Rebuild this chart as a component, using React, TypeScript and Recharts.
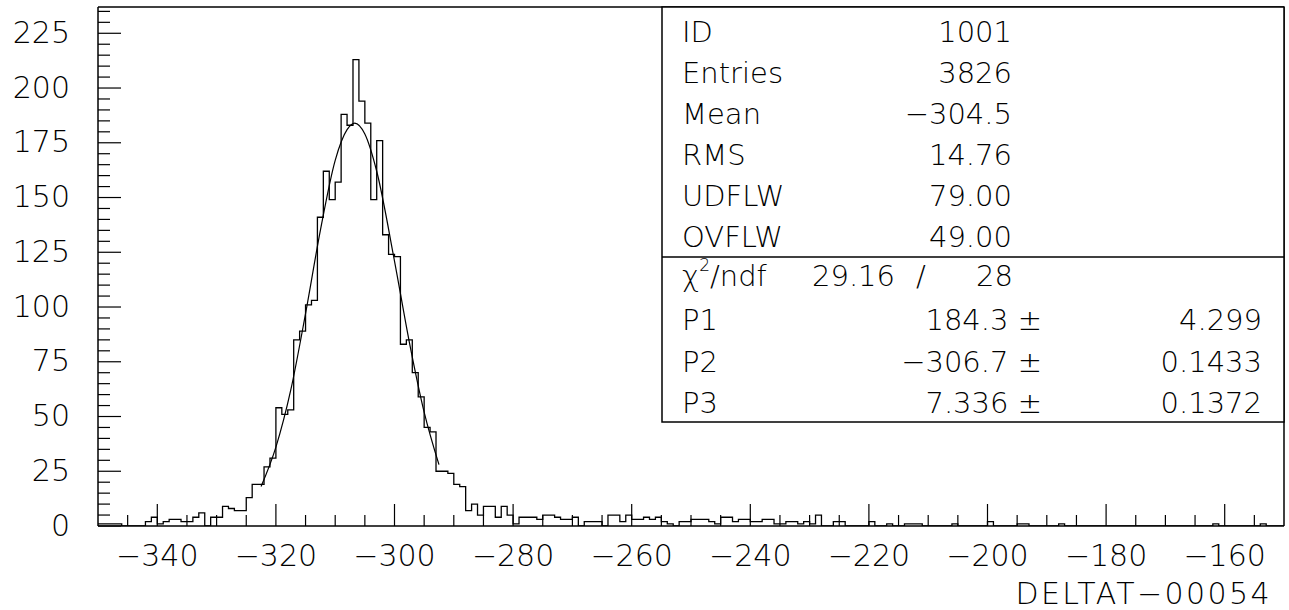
import { ComposedChart, Line, XAxis, YAxis } from "recharts";

// histogram DELTAT-00054, 1 unit bins from -350 to -150
const X_MIN = -350;
const X_MAX = -150;

// counts per bin, bins -350 .. -301
const countsA = [
  1, 1, 1, 1, 0, 0, 0, 0, 2, 4,
  1, 2, 3, 3, 2, 2, 4, 6, 0, 4,
  4, 9, 8, 7, 7, 13, 19, 19, 27, 31,
  54, 51, 53, 85, 89, 101, 103, 141, 162, 149,
  157, 188, 183, 213, 194, 184, 149, 176, 133, 124,
];
// bins -300 .. -251
const countsB = [
  123, 83, 85, 70, 59, 45, 43, 25, 25, 24,
  19, 18, 7, 10, 5, 9, 9, 4, 9, 5,
  1, 4, 4, 4, 3, 5, 5, 4, 3, 3,
  4, 0, 2, 2, 2, 0, 5, 5, 2, 5,
  3, 3, 4, 3, 4, 2, 1, 0, 2, 2,
];
// bins -250 .. -201
const countsC = [
  3, 3, 3, 2, 1, 4, 4, 2, 3, 3,
  2, 2, 3, 3, 1, 1, 2, 2, 1, 2,
  1, 5, 0, 0, 2, 2, 0, 0, 0, 0,
  2, 0, 0, 1, 0, 0, 1, 1, 1, 0,
  0, 0, 0, 0, 1, 0, 0, 0, 0, 0,
];
// bins -200 .. -151
const countsD = [
  2, 0, 0, 0, 0, 1, 1, 0, 0, 0,
  0, 0, 1, 0, 0, 0, 0, 0, 0, 0,
  0, 0, 0, 0, 0, 0, 0, 0, 0, 0,
  0, 0, 0, 0, 0, 0, 0, 0, 1, 0,
  0, 0, 0, 0, 0, 0, 1, 0, 0, 0,
];

// gaussian fit as drawn
const fitX = [-322.5, -320, -317.5, -315, -312.5, -310, -308, -306.7, -305, -303, -300, -297.5, -295, -292.5];
const fitY = [18, 36, 62, 97, 135, 167, 181, 184, 179, 162, 121, 84, 52, 28];

const xMajor = [-340, -320, -300, -280, -260, -240, -220, -200, -180, -160];
const yMajor = [0, 25, 50, 75, 100, 125, 150, 175, 200, 225];

const statLabels = ["ID", "Entries", "Mean", "RMS", "UDFLW", "OVFLW"];
const statValues = ["1001", "3826", "\u2212304.5", "14.76", "79.00", "49.00"];
const parLabels = ["P1", "P2", "P3"];
const parValues = ["184.3 \u00b1", "\u2212306.7 \u00b1", "7.336 \u00b1"];
const parErrors = ["4.299", "0.1433", "0.1372"];

const counts = [...countsA, ...countsB, ...countsC, ...countsD];
const histData = counts.map((c, i) => ({ x: X_MIN + i, y: c }));
histData.push({ x: X_MAX, y: counts[counts.length - 1] });
const fitData = fitX.map((x, i) => ({ x, y: fitY[i] }));

const xTicks: number[] = [];
for (let v = X_MIN + 5; v < X_MAX; v += 5) xTicks.push(v);
const yTicks: number[] = [];
for (let v = 0; v <= 235; v += 5) yTicks.push(v);

const FONT = "'DejaVu Sans', sans-serif";
const fmt = (v: number) => String(v).replace("-", "\u2212");

const XTick = (props: any) => {
  const { x, y, payload } = props;
  const v = payload.value;
  const major = xMajor.includes(v);
  return (
    <g>
      <line x1={x} x2={x} y1={y} y2={y - (major ? 22 : 11)} stroke="#000" strokeWidth={1.2} />
      {major && (
        <text x={x} y={y + 29} textAnchor="middle" dominantBaseline="central"
          fontFamily={FONT} fontWeight={200} fontSize={30} fill="#000">
          {fmt(v)}
        </text>
      )}
    </g>
  );
};

const YTick = (props: any) => {
  const { x, y, payload } = props;
  const v = payload.value;
  const major = yMajor.includes(v);
  return (
    <g>
      <line x1={x} x2={x + (major ? 23 : 12)} y1={y} y2={y} stroke="#000" strokeWidth={1.2} />
      {major && (
        <text x={x - 28} y={y - 1} textAnchor="end" dominantBaseline="central"
          fontFamily={FONT} fontWeight={200} fontSize={30} fill="#000">
          {v}
        </text>
      )}
    </g>
  );
};

export default function App() {
  const txt = { fontFamily: FONT, fontWeight: 200, fontSize: 29, fill: "#000" } as const;
  const labelX = 682;
  const rowY = [32, 73, 114, 155, 196, 237];
  const parY = [320, 362, 403];
  return (
    <div style={{ position: "absolute", left: 0, top: 0, width: 1289, height: 610, background: "#fff" }}>
      <ComposedChart
        width={1289}
        height={610}
        data={histData}
        margin={{ top: 0, right: 0, bottom: 0, left: 0 }}
      >
        <XAxis
          dataKey="x"
          type="number"
          domain={[X_MIN, X_MAX]}
          allowDataOverflow
          ticks={xTicks}
          interval={0}
          height={84}
          tickSize={0}
          tickMargin={0}
          tickLine={false}
          axisLine={{ stroke: "#000", strokeWidth: 1.5 }}
          tick={<XTick />}
        />
        <XAxis
          xAxisId="top"
          orientation="top"
          type="number"
          domain={[X_MIN, X_MAX]}
          height={7}
          tick={false}
          tickLine={false}
          axisLine={{ stroke: "#000", strokeWidth: 1.5 }}
        />
        <YAxis
          type="number"
          domain={[0, 237]}
          allowDataOverflow
          ticks={yTicks}
          interval={0}
          width={98}
          tickSize={0}
          tickMargin={0}
          tickLine={false}
          axisLine={{ stroke: "#000", strokeWidth: 1.5 }}
          tick={<YTick />}
        />
        <YAxis
          yAxisId="right"
          orientation="right"
          type="number"
          domain={[0, 237]}
          width={5}
          tick={false}
          tickLine={false}
          axisLine={{ stroke: "#000", strokeWidth: 1.5 }}
        />
        <Line
          type="stepAfter"
          dataKey="y"
          stroke="#000"
          strokeWidth={1.3}
          dot={false}
          activeDot={false}
          isAnimationActive={false}
        />
        <Line
          data={fitData}
          type="monotone"
          dataKey="y"
          stroke="#000"
          strokeWidth={1.2}
          dot={false}
          activeDot={false}
          isAnimationActive={false}
        />
      </ComposedChart>

      <svg width={1289} height={610} style={{ position: "absolute", left: 0, top: 0, pointerEvents: "none" }}>
        <rect x={662} y={7} width={622} height={415} fill="#fff" stroke="#000" strokeWidth={1.5} />
        <line x1={662} x2={1284} y1={257} y2={257} stroke="#000" strokeWidth={1.5} />
        {statLabels.map((l, i) => (
          <g key={l}>
            <text x={labelX} y={rowY[i]} dominantBaseline="central" {...txt}>{l}</text>
            <text x={1012} y={rowY[i]} textAnchor="end" dominantBaseline="central" {...txt}>{statValues[i]}</text>
          </g>
        ))}
        <text x={labelX} y={276} dominantBaseline="central" {...txt}>
          {"\u03c7"}
          <tspan fontSize={17} dy={-11}>2</tspan>
          <tspan dy={11}>/ndf</tspan>
        </text>
        <text x={812} y={276} dominantBaseline="central" {...txt}>29.16</text>
        <text x={921} y={276} textAnchor="middle" dominantBaseline="central" {...txt}>/</text>
        <text x={1013} y={276} textAnchor="end" dominantBaseline="central" {...txt}>28</text>
        {parLabels.map((l, i) => (
          <g key={l}>
            <text x={labelX} y={parY[i]} dominantBaseline="central" {...txt}>{l}</text>
            <text x={1042} y={parY[i]} textAnchor="end" dominantBaseline="central" {...txt}>{parValues[i]}</text>
            <text x={1262} y={parY[i]} textAnchor="end" dominantBaseline="central" {...txt}>{parErrors[i]}</text>
          </g>
        ))}
        <text x={1272} y={593} textAnchor="end" dominantBaseline="central" {...txt} fontSize={30} letterSpacing={2.4}>
          DELTAT{"\u2212"}00054
        </text>
      </svg>
    </div>
  );
}
